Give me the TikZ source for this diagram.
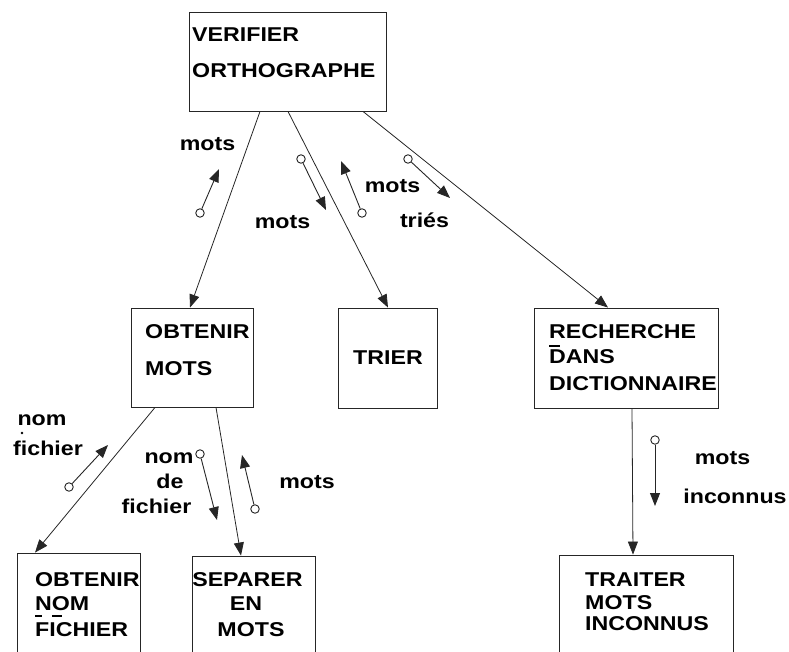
\documentclass[tikz,border=0pt]{standalone}
\usepackage{fontspec}
\usetikzlibrary{arrows.meta}
\newfontfamily\diafont{Liberation Sans}[UprightFont={* Bold}, FakeStretch=1.16]

\begin{document}
\begin{tikzpicture}[x=1bp, y=-1bp,
  every node/.style={font=\diafont\fontsize{20bp}{24bp}\selectfont, inner sep=0pt},
  procbox/.style={draw=black!85, line width=0.9bp, rectangle, minimum width=#1},
  txtl/.style={anchor=base west},
  txtc/.style={anchor=base},
  callarrow/.style={draw=black!85, line width=0.8bp, -{Triangle[length=13bp, width=10bp]}},
  couple/.style={draw=black!85, line width=0.9bp, -{Triangle[length=13bp, width=10bp]}},
  tailring/.style={circle, draw=black!85, line width=0.9bp, fill=white, minimum size=8.5bp},
  underbar/.style={line width=2bp, black}
]
\useasboundingbox (0,0) rectangle (789,652);
\clip (0,0) rectangle (789,652);

% process boxes
\node[procbox=197bp, minimum height=99bp]  (ver) at (287.5,61.5) {};
\node[procbox=122bp, minimum height=99bp]  (obm) at (192,357.5) {};
\node[procbox=99bp,  minimum height=100bp] (tri) at (387.5,358) {};
\node[procbox=184bp, minimum height=100bp] (rdd) at (626,358) {};
\node[procbox=123bp, minimum height=109bp] (onf) at (78.5,607.5) {};
\node[procbox=123bp, minimum height=106bp] (sep) at (253.5,609) {};
\node[procbox=174bp, minimum height=107bp] (tmi) at (646,608.5) {};

% box captions
\node[txtl] (ver1) at (192,42)  {VERIFIER};
\node[txtl] (ver2) at (192,78)  {ORTHOGRAPHE};
\node[txtl] (obm1) at (145,338) {OBTENIR};
\node[txtl] (obm2) at (145,375) {MOTS};
\node[txtl] (tri1) at (353,364) {TRIER};
\node[txtl] (rdd1) at (549,338) {RECHERCHE};
\node[txtl] (rdd2) at (549,363) {DANS};
\node[txtl] (rdd3) at (549,390) {DICTIONNAIRE};
\node[txtl] (onf1) at (35,586)  {OBTENIR};
\node[txtl] (onf2) at (35,610)  {NOM};
\node[txtl] (onf3) at (35,636)  {FICHIER};
\node[txtc] (sep1) at (247.5,586) {SEPARER};
\node[txtc] (sep2) at (246,610)   {EN};
\node[txtc] (sep3) at (251,636)   {MOTS};
\node[txtl] (tmi1) at (585,586) {TRAITER};
\node[txtl] (tmi2) at (585,609) {MOTS};
\node[txtl] (tmi3) at (585,630) {INCONNUS};

% stray underscore marks inside the captions
\draw[underbar] (549,346) -- (560,346);
\draw[underbar] (35,615.5) -- (42,615.5);
\draw[underbar] (52,615.5) -- (62,615.5);

% call connectors
\draw[callarrow] ([xshift=-27.5bp]ver.south) -- ([xshift=-2bp]obm.north);
\draw[callarrow] ([xshift=0.5bp]ver.south)   -- ([xshift=0.5bp]tri.north);
\draw[callarrow] ([xshift=75.5bp]ver.south)  -- ([xshift=-18bp]rdd.north);
\draw[callarrow] ([xshift=-37bp]obm.south)   -- ([xshift=-43.5bp]onf.north);
\draw[callarrow] ([xshift=24bp]obm.south)    -- ([xshift=-12.5bp]sep.north);
\draw[callarrow] ([xshift=6bp]rdd.south)     -- ([xshift=-13bp]tmi.north);

% data couples
\node[tailring] (c1) at (200,213) {};  \coordinate (a1) at (219,169);
\node[tailring] (c2) at (301,159) {};  \coordinate (a2) at (326,210);
\node[tailring] (c3) at (362,213) {};  \coordinate (a3) at (341,161);
\node[tailring] (c4) at (408,159) {};  \coordinate (a4) at (450,198);
\node[tailring] (c5) at (69,487) {};   \coordinate (a5) at (108,445);
\node[tailring] (c6) at (200,454) {};  \coordinate (a6) at (217,520);
\node[tailring] (c7) at (255,509) {};  \coordinate (a7) at (242,455);
\node[tailring] (c8) at (655,440) {};  \coordinate (a8) at (655,506);
\foreach \i in {1,...,8} \draw[couple] (c\i) -- (a\i);

% couple labels
\node[txtc] (l1)  at (207.5,151) {mots};
\node[txtc] (l2)  at (282.5,228) {mots};
\node[txtc] (l3)  at (392.5,192) {mots};
\node[txtc] (l4)  at (424.5,227) {triés};
\node[txtc] (l5a) at (42,425)    {nom};
\fill[black] (22,433) circle (1.3bp);
\node[txtc] (l5b) at (48,455)    {fichier};
\node[txtc] (l6a) at (169,463)   {nom};
\node[txtc] (l6b) at (170,488)   {de};
\node[txtc] (l6c) at (156.5,513) {fichier};
\node[txtc] (l7)  at (307,488)   {mots};
\node[txtc] (l8a) at (722.5,464) {mots};
\node[txtc] (l8b) at (735,503)   {inconnus};
\end{tikzpicture}
\end{document}
